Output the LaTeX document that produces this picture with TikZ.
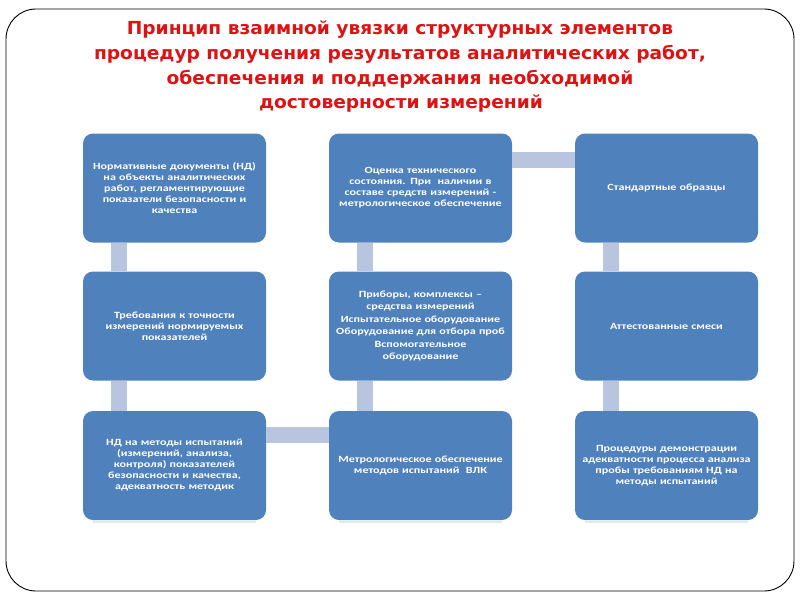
\documentclass[tikz,border=0pt]{standalone}
\usepackage{fontspec}
\setmainfont{Carlito}
\newfontfamily\boxfont[FakeStretch=1.27]{Carlito}
\newfontfamily\titlefont[FakeStretch=1.15,BoldFont={DejaVu Sans Condensed Bold}]{DejaVu Sans Condensed}
\definecolor{boxblue}{RGB}{79,129,189}
\definecolor{barcol}{RGB}{185,196,222}
\definecolor{titlered}{RGB}{222,18,18}
\definecolor{glow}{RGB}{214,234,250}
\begin{document}
\begin{tikzpicture}[x=1pt,y=-1pt,
  blk/.style={fill=boxblue, rounded corners=10pt, minimum width=183pt, minimum height=109pt,
    text width=178pt, align=center, text=white, inner sep=0pt,
    font=\boxfont\bfseries\fontsize{9.5}{11}\selectfont},
  bar/.style={draw=barcol, line width=16pt},
  ttl/.style={anchor=base, text=titlered, inner sep=0pt, font=\titlefont\bfseries\fontsize{18}{20}\selectfont}]
\useasboundingbox (0,0) rectangle (800,600);
\draw[line width=0.9pt, rounded corners=30pt] (6,9) rectangle (794,591);
% title
\node[ttl] (t1) at (400,34) {Принцип взаимной увязки структурных элементов};
\node[ttl] (t2) at (400,59) {процедур получения результатов аналитических работ,};
\node[ttl] (t3) at (400,84) {обеспечения и поддержания необходимой};
\node[ttl] (t4) at (401,108) {достоверности измерений};
% boxes
\node[blk] (a1) at (174.5,188) {Нормативные документы (НД)\\на объекты аналитических\\работ, регламентирующие\\показатели безопасности и\\качества};
\node[blk] (b1) at (420.5,188) {Оценка технического\\состояния. При \ наличии в\\составе средств измерений -\\метрологическое обеспечение};
\node[blk] (c1) at (666.5,188) {Стандартные образцы};
\node[blk] (a2) at (174.5,326) {Требования к точности\\измерений нормируемых\\показателей};
\node[blk, font=\boxfont\bfseries\fontsize{9.5}{12.4}\selectfont] (b2) at (420.5,326) {Приборы, комплексы –\\средства измерений\\Испытательное оборудование\\Оборудование для отбора проб\\Вспомогательное\\оборудование};
\node[blk] (c2) at (666.5,326) {Аттестованные смеси};
\node[blk] (a3) at (174.5,465.5) {НД на методы испытаний\\(измерений, анализа,\\контроля) показателей\\безопасности и качества,\\адекватность методик};
\node[blk] (b3) at (420.5,465.5) {Метрологическое обеспечение\\методов испытаний \ ВЛК};
\node[blk] (c3) at (666.5,465.5) {Процедуры демонстрации\\адекватности процесса анализа\\пробы требованиям НД на\\методы испытаний};
% connectors
\draw[bar] ([xshift=36.5pt]a1.south west) -- ([xshift=36.5pt]a2.north west);
\draw[bar] ([xshift=36.5pt]a2.south west) -- ([xshift=36.5pt]a3.north west);
\draw[bar] ([xshift=36.5pt]b1.south west) -- ([xshift=36.5pt]b2.north west);
\draw[bar] ([xshift=36.5pt]b2.south west) -- ([xshift=36.5pt]b3.north west);
\draw[bar] ([xshift=36.5pt]c1.south west) -- ([xshift=36.5pt]c2.north west);
\draw[bar] ([xshift=36.5pt]c2.south west) -- ([xshift=36.5pt]c3.north west);
\draw[bar] ([yshift=-26.5pt]b1.north east) -- ([yshift=-26.5pt]c1.north west);
\draw[bar] ([yshift=-24.5pt]a3.north east) -- ([yshift=-24.5pt]b3.north west);
% faint reflections
\foreach \n in {a3,b3,c3}
  \draw[glow, line width=1.5pt] ([xshift=10pt,yshift=-2pt]\n.south west) -- ([xshift=-10pt,yshift=-2pt]\n.south east);
\end{tikzpicture}
\end{document}
